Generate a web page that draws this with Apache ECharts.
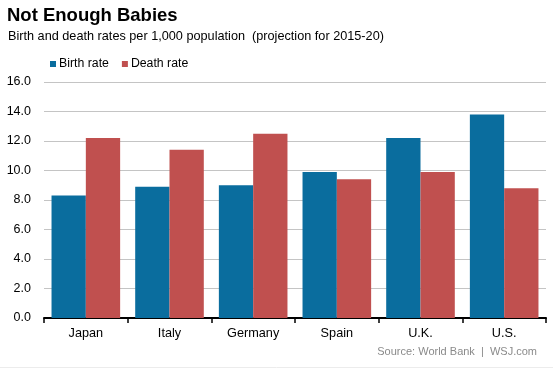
<!DOCTYPE html>
<html>
<head>
<meta charset="utf-8">
<script src="https://cdn.jsdelivr.net/npm/echarts@6/dist/echarts.min.js"></script>
<style>html,body{margin:0;padding:0;background:#fff;}#c{width:553px;height:369px;}</style>
</head>
<body>
<div id="c"></div>
<script>
var categories = ['Japan', 'Italy', 'Germany', 'Spain', 'U.K.', 'U.S.'];
var birthRate = [8.3, 8.9, 9.0, 9.9, 12.2, 13.8];
var deathRate = [12.2, 11.4, 12.5, 9.4, 9.9, 8.8];
var seriesNames = ['Birth rate', 'Death rate'];
var titleText = 'Not Enough Babies';
var subtitleText = 'Birth and death rates per 1,000 population  (projection for 2015-20)';
var sourceText = 'Source: World Bank  |  WSJ.com';

var FONT = '"Liberation Sans", Arial, sans-serif';
var chart = echarts.init(document.getElementById('c'), null, {renderer: 'canvas'});
chart.setOption({
  animation: false,
  backgroundColor: '#fff',
  title: [
    {text: titleText, left: 7, top: 6, padding: 0,
     textStyle: {fontFamily: FONT, fontSize: 18.5, fontWeight: 'bold', color: '#000'}},
    {text: subtitleText, left: 8, top: 30, padding: 0,
     textStyle: {fontFamily: FONT, fontSize: 12.7, fontWeight: 'normal', color: '#000'}}
  ],
  legend: {
    left: 50, top: 58, padding: 0,
    itemWidth: 6, itemHeight: 6, itemGap: 13, icon: 'rect',
    textStyle: {fontFamily: FONT, fontSize: 12.3, color: '#000', padding: [0, 0, 0, -2]},
    data: seriesNames
  },
  grid: {left: 44, right: 7, top: 82, bottom: 51, containLabel: false},
  xAxis: {
    type: 'category', data: categories,
    axisLine: {lineStyle: {color: '#000', width: 2}},
    axisTick: {show: true, length: 5, lineStyle: {color: '#000', width: 1.5}},
    axisLabel: {fontFamily: FONT, fontSize: 12.7, color: '#000', margin: 9}
  },
  yAxis: {
    type: 'value', min: 0, max: 16, interval: 2,
    axisLine: {show: false}, axisTick: {show: false},
    axisLabel: {fontFamily: FONT, fontSize: 12.5, color: '#000', margin: 13,
      formatter: function (v) { return v.toFixed(1); }},
    splitLine: {lineStyle: {color: '#c4c4c4', width: 1}}
  },
  series: [
    {name: seriesNames[0], type: 'bar', data: birthRate, barGap: '0%', barCategoryGap: '18%',
     itemStyle: {color: '#0a6d9e'}},
    {name: seriesNames[1], type: 'bar', data: deathRate, barGap: '0%', barCategoryGap: '18%',
     itemStyle: {color: '#c0504f'}}
  ],
  graphic: [
    {type: 'text', right: 16, top: 346,
     style: {text: sourceText, fontFamily: FONT, fontSize: 11, fill: '#8a8a8a'}},
    {type: 'line', shape: {x1: 0, y1: 367.5, x2: 553, y2: 367.5},
     style: {stroke: '#ececec', lineWidth: 1}}
  ]
});
</script>
</body>
</html>
